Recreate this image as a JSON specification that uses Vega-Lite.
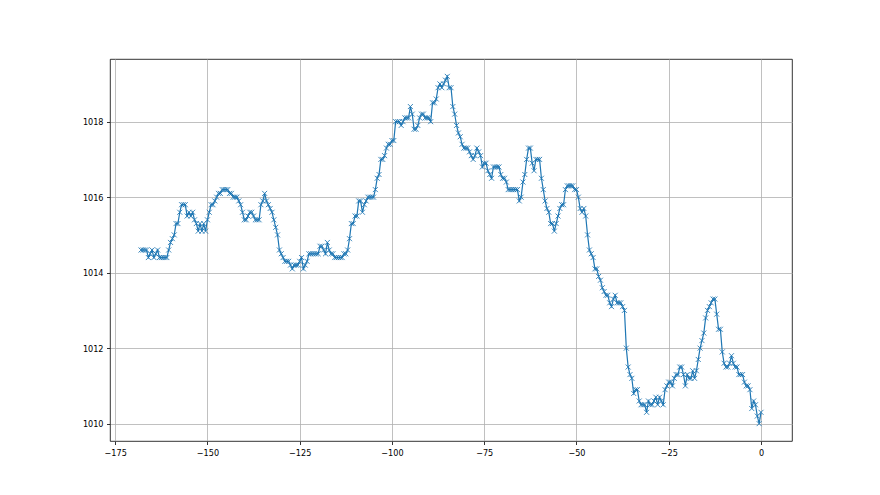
{
  "$schema": "https://vega.github.io/schema/vega-lite/v6.json",
  "width": 682,
  "height": 382,
  "autosize": {"type": "none"},
  "padding": {"left": 110, "top": 59, "right": 88, "bottom": 54},
  "background": "white",
  "config": {
    "view": {"stroke": "black", "strokeWidth": 0.8},
    "axis": {
      "labelFont": "DejaVu Sans Condensed",
      "labelFontSize": 9,
      "labelColor": "black",
      "tickColor": "black",
      "tickSize": 3.5,
      "tickWidth": 0.8,
      "labelPadding": 3.5,
      "domain": false,
      "grid": true,
      "gridColor": "#b0b0b0",
      "gridWidth": 0.8,
      "title": null
    }
  },
  "data": {
    "values": [
      {"h": -168, "p": 1014.6}, {"h": -167.5, "p": 1014.6}, {"h": -167, "p": 1014.6}, {"h": -166.5, "p": 1014.6},
      {"h": -166, "p": 1014.4}, {"h": -165.5, "p": 1014.5}, {"h": -165, "p": 1014.6}, {"h": -164.5, "p": 1014.4},
      {"h": -164, "p": 1014.5}, {"h": -163.5, "p": 1014.6}, {"h": -163, "p": 1014.4}, {"h": -162.5, "p": 1014.4},
      {"h": -162, "p": 1014.4}, {"h": -161.5, "p": 1014.4}, {"h": -161, "p": 1014.4}, {"h": -160.5, "p": 1014.6},
      {"h": -160, "p": 1014.8}, {"h": -159.5, "p": 1014.9}, {"h": -159, "p": 1015.0}, {"h": -158.5, "p": 1015.3},
      {"h": -158, "p": 1015.3}, {"h": -157.5, "p": 1015.6}, {"h": -157, "p": 1015.8}, {"h": -156.5, "p": 1015.8},
      {"h": -156, "p": 1015.8}, {"h": -155.5, "p": 1015.5}, {"h": -155, "p": 1015.6}, {"h": -154.5, "p": 1015.5},
      {"h": -154, "p": 1015.6}, {"h": -153.5, "p": 1015.4}, {"h": -153, "p": 1015.3}, {"h": -152.5, "p": 1015.1},
      {"h": -152, "p": 1015.3}, {"h": -151.5, "p": 1015.1}, {"h": -151, "p": 1015.3}, {"h": -150.5, "p": 1015.1},
      {"h": -150, "p": 1015.4}, {"h": -149.5, "p": 1015.6}, {"h": -149, "p": 1015.8}, {"h": -148.5, "p": 1015.8},
      {"h": -148, "p": 1015.9}, {"h": -147.5, "p": 1016.0}, {"h": -147, "p": 1016.1}, {"h": -146.5, "p": 1016.1},
      {"h": -146, "p": 1016.2}, {"h": -145.5, "p": 1016.2}, {"h": -145, "p": 1016.2}, {"h": -144.5, "p": 1016.2},
      {"h": -144, "p": 1016.1}, {"h": -143.5, "p": 1016.1}, {"h": -143, "p": 1016.0}, {"h": -142.5, "p": 1016.0},
      {"h": -142, "p": 1016.0}, {"h": -141.5, "p": 1015.9}, {"h": -141, "p": 1015.8}, {"h": -140.5, "p": 1015.6},
      {"h": -140, "p": 1015.4}, {"h": -139.5, "p": 1015.4}, {"h": -139, "p": 1015.5}, {"h": -138.5, "p": 1015.6},
      {"h": -138, "p": 1015.6}, {"h": -137.5, "p": 1015.5}, {"h": -137, "p": 1015.4}, {"h": -136.5, "p": 1015.4},
      {"h": -136, "p": 1015.4}, {"h": -135.5, "p": 1015.8}, {"h": -135, "p": 1015.9}, {"h": -134.5, "p": 1016.1},
      {"h": -134, "p": 1015.9}, {"h": -133.5, "p": 1015.8}, {"h": -133, "p": 1015.7}, {"h": -132.5, "p": 1015.6},
      {"h": -132, "p": 1015.4}, {"h": -131.5, "p": 1015.2}, {"h": -131, "p": 1015.0}, {"h": -130.5, "p": 1014.6},
      {"h": -130, "p": 1014.5}, {"h": -129.5, "p": 1014.4}, {"h": -129, "p": 1014.3}, {"h": -128.5, "p": 1014.3},
      {"h": -128, "p": 1014.3}, {"h": -127.5, "p": 1014.2}, {"h": -127, "p": 1014.1}, {"h": -126.5, "p": 1014.2},
      {"h": -126, "p": 1014.2}, {"h": -125.5, "p": 1014.2}, {"h": -125, "p": 1014.3}, {"h": -124.5, "p": 1014.4},
      {"h": -124, "p": 1014.1}, {"h": -123.5, "p": 1014.2}, {"h": -123, "p": 1014.3}, {"h": -122.5, "p": 1014.5},
      {"h": -122, "p": 1014.5}, {"h": -121.5, "p": 1014.5}, {"h": -121, "p": 1014.5}, {"h": -120.5, "p": 1014.5},
      {"h": -120, "p": 1014.5}, {"h": -119.5, "p": 1014.7}, {"h": -119, "p": 1014.7}, {"h": -118.5, "p": 1014.6},
      {"h": -118, "p": 1014.5}, {"h": -117.5, "p": 1014.8}, {"h": -117, "p": 1014.6}, {"h": -116.5, "p": 1014.5},
      {"h": -116, "p": 1014.5}, {"h": -115.5, "p": 1014.4}, {"h": -115, "p": 1014.4}, {"h": -114.5, "p": 1014.4},
      {"h": -114, "p": 1014.4}, {"h": -113.5, "p": 1014.4}, {"h": -113, "p": 1014.5}, {"h": -112.5, "p": 1014.5},
      {"h": -112, "p": 1014.6}, {"h": -111.5, "p": 1014.9}, {"h": -111, "p": 1015.3}, {"h": -110.5, "p": 1015.3},
      {"h": -110, "p": 1015.5}, {"h": -109.5, "p": 1015.5}, {"h": -109, "p": 1015.9}, {"h": -108.5, "p": 1015.9},
      {"h": -108, "p": 1015.6}, {"h": -107.5, "p": 1015.8}, {"h": -107, "p": 1015.9}, {"h": -106.5, "p": 1016.0},
      {"h": -106, "p": 1016.0}, {"h": -105.5, "p": 1016.0}, {"h": -105, "p": 1016.0}, {"h": -104.5, "p": 1016.2},
      {"h": -104, "p": 1016.5}, {"h": -103.5, "p": 1016.6}, {"h": -103, "p": 1017.0}, {"h": -102.5, "p": 1017.0},
      {"h": -102, "p": 1017.1}, {"h": -101.5, "p": 1017.3}, {"h": -101, "p": 1017.4}, {"h": -100.5, "p": 1017.4},
      {"h": -100, "p": 1017.5}, {"h": -99.5, "p": 1017.5}, {"h": -99, "p": 1018.0}, {"h": -98.5, "p": 1018.0},
      {"h": -98, "p": 1018.0}, {"h": -97.5, "p": 1017.9}, {"h": -97, "p": 1018.0}, {"h": -96.5, "p": 1018.1},
      {"h": -96, "p": 1018.1}, {"h": -95.5, "p": 1018.1}, {"h": -95, "p": 1018.4}, {"h": -94.5, "p": 1018.2},
      {"h": -94, "p": 1017.8}, {"h": -93.5, "p": 1017.8}, {"h": -93, "p": 1017.9}, {"h": -92.5, "p": 1018.1},
      {"h": -92, "p": 1018.2}, {"h": -91.5, "p": 1018.2}, {"h": -91, "p": 1018.1}, {"h": -90.5, "p": 1018.1},
      {"h": -90, "p": 1018.1}, {"h": -89.5, "p": 1018.0}, {"h": -89, "p": 1018.5}, {"h": -88.5, "p": 1018.5},
      {"h": -88, "p": 1018.6}, {"h": -87.5, "p": 1018.9}, {"h": -87, "p": 1019.0}, {"h": -86.5, "p": 1018.9},
      {"h": -86, "p": 1019.0}, {"h": -85.5, "p": 1019.1}, {"h": -85, "p": 1019.2}, {"h": -84.5, "p": 1018.9},
      {"h": -84, "p": 1018.9}, {"h": -83.5, "p": 1018.4}, {"h": -83, "p": 1018.2}, {"h": -82.5, "p": 1017.9},
      {"h": -82, "p": 1017.7}, {"h": -81.5, "p": 1017.6}, {"h": -81, "p": 1017.4}, {"h": -80.5, "p": 1017.3},
      {"h": -80, "p": 1017.3}, {"h": -79.5, "p": 1017.3}, {"h": -79, "p": 1017.2}, {"h": -78.5, "p": 1017.1},
      {"h": -78, "p": 1017.0}, {"h": -77.5, "p": 1017.1}, {"h": -77, "p": 1017.3}, {"h": -76.5, "p": 1017.2},
      {"h": -76, "p": 1017.1}, {"h": -75.5, "p": 1016.8}, {"h": -75, "p": 1016.9}, {"h": -74.5, "p": 1016.9},
      {"h": -74, "p": 1016.7}, {"h": -73.5, "p": 1016.6}, {"h": -73, "p": 1016.5}, {"h": -72.5, "p": 1016.8},
      {"h": -72, "p": 1016.8}, {"h": -71.5, "p": 1016.8}, {"h": -71, "p": 1016.8}, {"h": -70.5, "p": 1016.6},
      {"h": -70, "p": 1016.5}, {"h": -69.5, "p": 1016.5}, {"h": -69, "p": 1016.4}, {"h": -68.5, "p": 1016.2},
      {"h": -68, "p": 1016.2}, {"h": -67.5, "p": 1016.2}, {"h": -67, "p": 1016.2}, {"h": -66.5, "p": 1016.2},
      {"h": -66, "p": 1016.2}, {"h": -65.5, "p": 1015.9}, {"h": -65, "p": 1016.0}, {"h": -64.5, "p": 1016.4},
      {"h": -64, "p": 1016.6}, {"h": -63.5, "p": 1017.0}, {"h": -63, "p": 1017.3}, {"h": -62.5, "p": 1017.3},
      {"h": -62, "p": 1016.9}, {"h": -61.5, "p": 1016.7}, {"h": -61, "p": 1017.0}, {"h": -60.5, "p": 1017.0},
      {"h": -60, "p": 1017.0}, {"h": -59.5, "p": 1016.5}, {"h": -59, "p": 1016.2}, {"h": -58.5, "p": 1015.9},
      {"h": -58, "p": 1015.7}, {"h": -57.5, "p": 1015.6}, {"h": -57, "p": 1015.3}, {"h": -56.5, "p": 1015.3},
      {"h": -56, "p": 1015.1}, {"h": -55.5, "p": 1015.3}, {"h": -55, "p": 1015.5}, {"h": -54.5, "p": 1015.7},
      {"h": -54, "p": 1015.8}, {"h": -53.5, "p": 1015.8}, {"h": -53, "p": 1016.2}, {"h": -52.5, "p": 1016.3},
      {"h": -52, "p": 1016.3}, {"h": -51.5, "p": 1016.3}, {"h": -51, "p": 1016.3}, {"h": -50.5, "p": 1016.2},
      {"h": -50, "p": 1016.2}, {"h": -49.5, "p": 1016.0}, {"h": -49, "p": 1015.7}, {"h": -48.5, "p": 1015.6},
      {"h": -48, "p": 1015.7}, {"h": -47.5, "p": 1015.5}, {"h": -47, "p": 1015.0}, {"h": -46.5, "p": 1014.6},
      {"h": -46, "p": 1014.5}, {"h": -45.5, "p": 1014.4}, {"h": -45, "p": 1014.1}, {"h": -44.5, "p": 1014.1},
      {"h": -44, "p": 1013.9}, {"h": -43.5, "p": 1013.8}, {"h": -43, "p": 1013.6}, {"h": -42.5, "p": 1013.5},
      {"h": -42, "p": 1013.4}, {"h": -41.5, "p": 1013.4}, {"h": -41, "p": 1013.2}, {"h": -40.5, "p": 1013.1},
      {"h": -40, "p": 1013.3}, {"h": -39.5, "p": 1013.4}, {"h": -39, "p": 1013.2}, {"h": -38.5, "p": 1013.2},
      {"h": -38, "p": 1013.2}, {"h": -37.5, "p": 1013.1}, {"h": -37, "p": 1013.0}, {"h": -36.5, "p": 1012.0},
      {"h": -36, "p": 1011.5}, {"h": -35.5, "p": 1011.3}, {"h": -35, "p": 1011.2}, {"h": -34.5, "p": 1010.8},
      {"h": -34, "p": 1010.9}, {"h": -33.5, "p": 1010.9}, {"h": -33, "p": 1010.6}, {"h": -32.5, "p": 1010.5},
      {"h": -32, "p": 1010.5}, {"h": -31.5, "p": 1010.5}, {"h": -31, "p": 1010.3}, {"h": -30.5, "p": 1010.6},
      {"h": -30, "p": 1010.5}, {"h": -29.5, "p": 1010.5}, {"h": -29, "p": 1010.6}, {"h": -28.5, "p": 1010.7},
      {"h": -28, "p": 1010.5}, {"h": -27.5, "p": 1010.7}, {"h": -27, "p": 1010.6}, {"h": -26.5, "p": 1010.5},
      {"h": -26, "p": 1010.9}, {"h": -25.5, "p": 1011.0}, {"h": -25, "p": 1011.1}, {"h": -24.5, "p": 1011.1},
      {"h": -24, "p": 1011.0}, {"h": -23.5, "p": 1011.2}, {"h": -23, "p": 1011.3}, {"h": -22.5, "p": 1011.3},
      {"h": -22, "p": 1011.5}, {"h": -21.5, "p": 1011.5}, {"h": -21, "p": 1011.3}, {"h": -20.5, "p": 1011.0},
      {"h": -20, "p": 1011.3}, {"h": -19.5, "p": 1011.2}, {"h": -19, "p": 1011.2}, {"h": -18.5, "p": 1011.4},
      {"h": -18, "p": 1011.2}, {"h": -17.5, "p": 1011.4}, {"h": -17, "p": 1011.7}, {"h": -16.5, "p": 1012.0},
      {"h": -16, "p": 1012.2}, {"h": -15.5, "p": 1012.4}, {"h": -15, "p": 1012.8}, {"h": -14.5, "p": 1013.0},
      {"h": -14, "p": 1013.1}, {"h": -13.5, "p": 1013.2}, {"h": -13, "p": 1013.3}, {"h": -12.5, "p": 1013.3},
      {"h": -12, "p": 1012.9}, {"h": -11.5, "p": 1012.5}, {"h": -11, "p": 1012.5}, {"h": -10.5, "p": 1011.9},
      {"h": -10, "p": 1011.6}, {"h": -9.5, "p": 1011.5}, {"h": -9, "p": 1011.5}, {"h": -8.5, "p": 1011.6},
      {"h": -8, "p": 1011.8}, {"h": -7.5, "p": 1011.6}, {"h": -7, "p": 1011.5}, {"h": -6.5, "p": 1011.5},
      {"h": -6, "p": 1011.3}, {"h": -5.5, "p": 1011.3}, {"h": -5, "p": 1011.3}, {"h": -4.5, "p": 1011.1},
      {"h": -4, "p": 1011.0}, {"h": -3.5, "p": 1011.0}, {"h": -3, "p": 1010.9}, {"h": -2.5, "p": 1010.4},
      {"h": -2, "p": 1010.6}, {"h": -1.5, "p": 1010.5}, {"h": -1, "p": 1010.2}, {"h": -0.5, "p": 1010.0},
      {"h": 0, "p": 1010.3}
    ]
  },
  "encoding": {
    "x": {
      "field": "h",
      "type": "quantitative",
      "scale": {"domain": [-176.4, 8.4], "nice": false, "zero": false},
      "axis": {"values": [-175, -150, -125, -100, -75, -50, -25, 0], "format": "d"}
    },
    "y": {
      "field": "p",
      "type": "quantitative",
      "scale": {"domain": [1009.54, 1019.66], "nice": false, "zero": false},
      "axis": {"values": [1010, 1012, 1014, 1016, 1018], "format": "d"}
    }
  },
  "layer": [
    {"mark": {"type": "line", "color": "#1f77b4", "strokeWidth": 1.2, "clip": true}},
    {"mark": {"type": "point", "shape": "M-1,-1L1,1M-1,1L1,-1", "filled": false, "stroke": "#1f77b4", "strokeWidth": 1, "size": 25, "opacity": 0.85, "clip": true}}
  ]
}
